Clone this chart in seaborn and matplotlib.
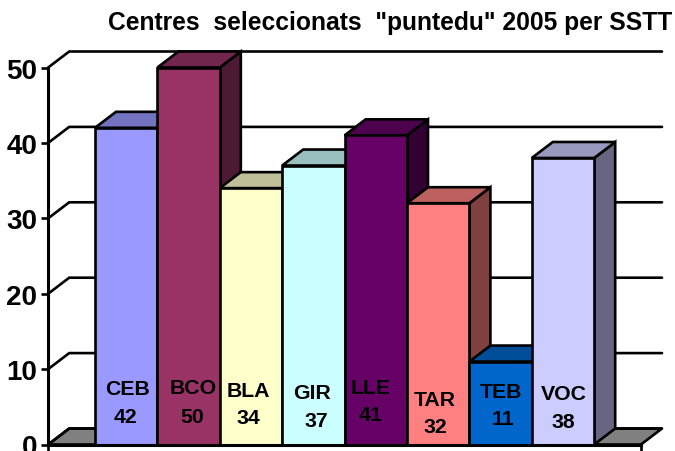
import matplotlib
matplotlib.use('Agg')
import matplotlib.pyplot as plt
from matplotlib.colors import to_rgb
from matplotlib.patches import Polygon
import pandas as pd
import seaborn as sns

# Chart values
centres = ['CEB', 'BCO', 'BLA', 'GIR', 'LLE', 'TAR', 'TEB', 'VOC']
seleccionats = [42, 50, 34, 37, 41, 32, 11, 38]
colors = ['#9999FF', '#993366', '#FFFFCC', '#CCFFFF', '#660066', '#FF8080', '#0066CC', '#CCCCFF']
y_ticks = [0, 10, 20, 30, 40, 50]
title = 'Centres  seleccionats  "puntedu" 2005 per SSTT'

# Hand placed label centres in image pixels (name x, name y, value x, value y)
label_pixels = [(127, 390, 126, 418), (193, 389, 192, 418), (248, 392, 248, 419), (312, 394, 316, 422),
                (371, 389, 371, 416), (435, 401, 435, 428), (501, 393, 503, 420), (564, 395, 563, 423)]

W, H = 675, 452
GAP = 0.75      # space either side of the bars, in bar widths
DX = 21 / 62.4  # depth of the fake 3d box, in bar widths
DY = 16 / 7.54  # depth of the fake 3d box, in value units
LW = 1.9


def shade(color, f):
    return tuple(c * f for c in to_rgb(color))


sns.set_theme(style='white')
plt.rcParams['font.family'] = ['Liberation Sans', 'DejaVu Sans']
plt.rcParams['font.weight'] = 'bold'

df = pd.DataFrame({'centre': centres, 'n': seleccionats})

fig = plt.figure(figsize=(W / 100, H / 100), dpi=100)
ax = fig.add_axes([48.2 / W, 1 - 445.5 / H, 613.8 / W, 393 / H])
sns.barplot(data=df, x='centre', y='n', hue='centre', palette=colors, width=1, dodge=False,
            edgecolor='black', linewidth=LW, saturation=1, legend=False, ax=ax)

x0 = -0.5 - GAP
x1 = len(centres) - 0.5 + GAP
ax.set_xlim(x0, x1 + DX)
ax.set_ylim(0, 393 / 7.54)

# Back wall and floor
ax.add_patch(Polygon([(x0, 0), (x0 + DX, DY), (x1 + DX, DY), (x1, 0)], closed=True,
                     facecolor='#808080', edgecolor='black', linewidth=LW, zorder=1, clip_on=False))
for t in y_ticks:
    ax.plot([x0, x0 + DX, x1 + DX], [t, t + DY, t + DY], color='black', lw=LW, zorder=1.5,
            solid_joinstyle='miter', clip_on=False)

# Top and side faces for each bar, later bars sit over earlier ones
for i, (bar, color) in enumerate(zip(ax.patches, colors)):
    z = 3 + i
    left, right, top = bar.get_x(), bar.get_x() + bar.get_width(), bar.get_height()
    ax.add_patch(Polygon([(right, 0), (right + DX, DY), (right + DX, top + DY), (right, top)], closed=True,
                         facecolor=shade(color, 0.5), edgecolor='black', linewidth=LW, zorder=z, clip_on=False))
    ax.add_patch(Polygon([(left, top), (left + DX, top + DY), (right + DX, top + DY), (right, top)], closed=True,
                         facecolor=shade(color, 0.75), edgecolor='black', linewidth=LW, zorder=z, clip_on=False))
    bar.set_zorder(z + 0.5)

# Axes
sns.despine(ax=ax, top=True, right=True)
for side in ['left', 'bottom']:
    ax.spines[side].set_linewidth(LW + 0.3)
    ax.spines[side].set_color('black')
    ax.spines[side].set_zorder(20)
ax.spines['left'].set_bounds(0, 50)
ax.spines['bottom'].set_bounds(x0, x1)
ax.set_yticks(y_ticks)
ax.set_xticks([x0, x1])
ax.set_xticklabels(['', ''])
ax.set_xlabel('')
ax.set_ylabel('')
ax.tick_params(axis='y', direction='out', length=5, width=LW, color='black', left=True,
               labelsize=20, pad=3, labelcolor='black')
ax.tick_params(axis='x', direction='out', length=6, width=LW, color='black', bottom=True)
for lab in ax.get_yticklabels():
    lab.set_fontweight('bold')

# Labels inside the bars
for name, val, (nx, ny, vx, vy) in zip(centres, seleccionats, label_pixels):
    fig.text(nx / W, 1 - ny / H, name, ha='center', va='center', fontsize=15.3, fontweight='bold',
             color='black', zorder=30)
    fig.text(vx / W, 1 - vy / H, str(val), ha='center', va='center', fontsize=15.3, fontweight='bold',
             color='black', zorder=30)

fig.text(390 / W, 1 - 23 / H, title, ha='center', va='center', fontsize=17.7, fontweight='bold', color='black')

fig.savefig('out.png', dpi=100)
